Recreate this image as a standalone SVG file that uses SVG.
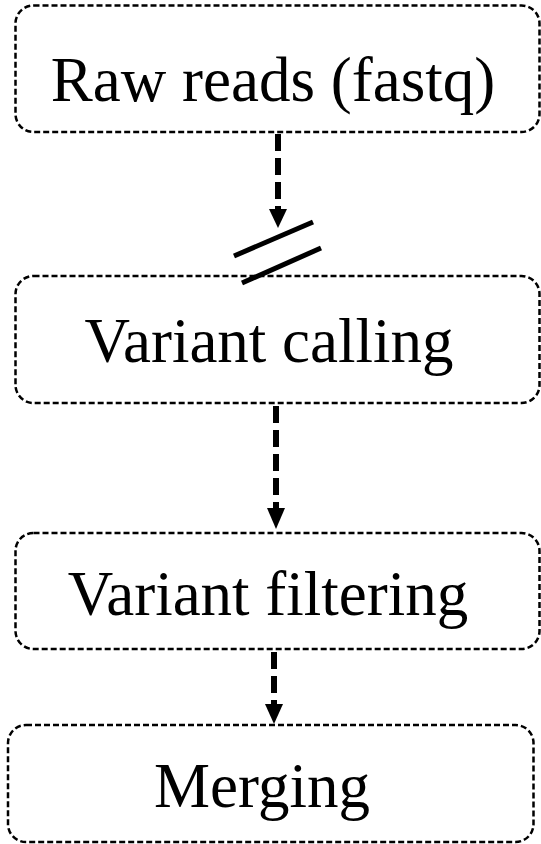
<svg xmlns="http://www.w3.org/2000/svg" width="541" height="844" viewBox="0 0 541 844">
<style>
.box{fill:#fff;stroke:#000;stroke-width:2.5;stroke-dasharray:6 3}
.lbl{font-family:"Liberation Serif","Times New Roman",serif;font-size:63px;fill:#000;text-anchor:middle}
.edge{stroke:#000;stroke-width:6;stroke-dasharray:17 7;fill:none}
.head{fill:#000}
.slash{stroke:#000;stroke-width:5}
</style>
<rect width="541" height="844" fill="#fff"/>
<g id="raw-reads">
<rect class="box" x="15.5" y="5.5" width="524" height="126.5" rx="18"/>
<text class="lbl" x="273" y="101">Raw reads (fastq)</text>
</g>
<g id="variant-calling">
<rect class="box" x="15.5" y="276" width="524" height="127" rx="18"/>
<text class="lbl" x="269" y="362">Variant calling</text>
</g>
<g id="variant-filtering">
<rect class="box" x="15.5" y="533" width="524" height="116" rx="18"/>
<text class="lbl" x="268" y="615">Variant filtering</text>
</g>
<g id="merging">
<rect class="box" x="8" y="725" width="525.5" height="117" rx="18"/>
<text class="lbl" x="262" y="807">Merging</text>
</g>
<g id="connectors">
<line class="edge" x1="278" y1="134" x2="278" y2="211"/>
<polygon class="head" points="269,209 287,209 278,228"/>
<line class="slash" x1="234" y1="256" x2="313" y2="222"/>
<line class="slash" x1="242" y1="283" x2="321" y2="248"/>
<line class="edge" x1="276" y1="406" x2="276" y2="510"/>
<polygon class="head" points="267,508 285,508 276,529"/>
<line class="edge" x1="274" y1="652" x2="274" y2="706"/>
<polygon class="head" points="265,704 283,704 274,724"/>
</g>
</svg>
